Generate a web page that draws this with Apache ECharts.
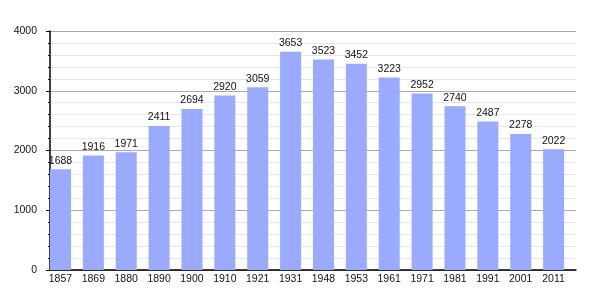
<!DOCTYPE html>
<html><head><meta charset="utf-8">
<script src="https://cdn.jsdelivr.net/npm/echarts@6/dist/echarts.min.js"></script>
<style>html,body{margin:0;padding:0;background:#fff}#c{width:605px;height:300px}</style>
</head><body><div id="c"></div>
<script>
const years = ['1857','1869','1880','1890','1900','1910','1921','1931','1948','1953','1961','1971','1981','1991','2001','2011'];
const population = [1688,1916,1971,2411,2694,2920,3059,3653,3523,3452,3223,2952,2740,2487,2278,2022];
const yTicks = [0,1000,2000,3000,4000];

const chart = echarts.init(document.getElementById('c'), null, {renderer:'canvas'});
const font = 'Liberation Sans, Arial, sans-serif';
chart.setOption({
  animation:false,
  grid:{left:50,right:29,top:31,bottom:30,containLabel:false},
  xAxis:{
    type:'category', data:years,
    axisLine:{lineStyle:{color:'#000',width:1.5}},
    axisTick:{show:false},
    axisLabel:{color:'#111',fontFamily:font,fontSize:10.5,margin:4,padding:[0,12,0,0]},
    splitLine:{show:false}
  },
  yAxis:{
    type:'value', min:yTicks[0], max:yTicks[yTicks.length-1], interval:1000,
    axisLine:{show:true,lineStyle:{color:'#000',width:1.5}},
    axisTick:{show:true,length:4,lineStyle:{color:'#000'}},
    minorTick:{show:true,splitNumber:5,length:2,lineStyle:{color:'#000'}},
    axisLabel:{color:'#111',fontFamily:font,fontSize:10.5,margin:13,formatter:v=>String(v)},
    splitLine:{show:true,lineStyle:{color:'#aaaaaa',width:1}},
    minorSplitLine:{show:true,lineStyle:{color:'#e6e6e6',width:1}}
  },
  series:[
    {type:'bar', data:population, barWidth:21, barGap:'0%',
     itemStyle:{color:'#99aaff'},
     label:{show:true,position:'top',distance:3,color:'#111',fontFamily:font,fontSize:10.5}},
    {type:'bar', data:[], barWidth:11.9, barGap:'0%', silent:true, itemStyle:{color:'transparent'}}
  ]
});
</script></body></html>
